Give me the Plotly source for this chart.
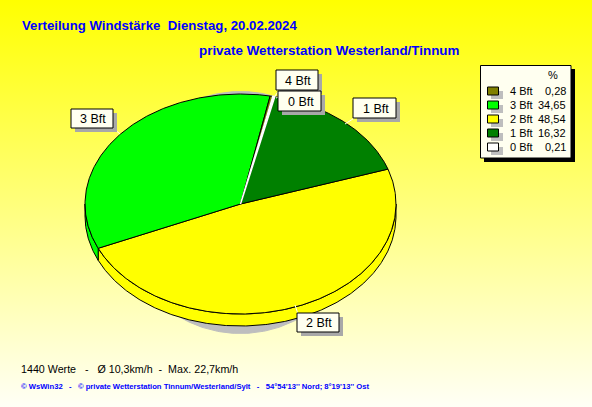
import numpy as np
import plotly.graph_objects as go

# ---------- data ----------
categories = ["4 Bft", "3 Bft", "2 Bft", "1 Bft", "0 Bft"]
percent = [0.28, 34.65, 48.54, 16.32, 0.21]
percent_labels = ["0,28", "34,65", "48,54", "16,32", "0,21"]
colors = ["#808000", "#00FF00", "#FFFF00", "#008000", "#FFFFFF"]
clockwise_order = ["2 Bft", "3 Bft", "4 Bft", "0 Bft", "1 Bft"]
draw_order = ["2 Bft", "3 Bft", "1 Bft", "4 Bft", "0 Bft"]

title_1 = "Verteilung Windstärke\u00a0\u00a0Dienstag, 20.02.2024"
title_2 = "private Wetterstation Westerland/Tinnum"
footer_1 = "1440 Werte\u00a0\u00a0\u00a0-\u00a0\u00a0\u00a0Ø 10,3km/h\u00a0\u00a0-\u00a0\u00a0Max. 22,7km/h"
footer_2 = ("© WsWin32\u00a0\u00a0\u00a0-\u00a0\u00a0\u00a0© private Wetterstation Tinnum/Westerland/Sylt"
            "\u00a0\u00a0\u00a0-\u00a0\u00a0\u00a054°54'13'' Nord; 8°19'13'' Ost")

# ---------- layout constants (pixels) ----------
W, H = 592, 407
CX, CY, RX, RY = 240.5, 204.0, 155.5, 110.0
DEPTH = 12.0 / RY
START = 18.5
FONT = "Liberation Sans, Arial, sans-serif"
PAPER = "#FFFFF0"

px = lambda x: x / W
py = lambda y: 1 - y / H

fig = go.Figure()

xr = [-CX / RX, (W - CX) / RX]
yr = [(CY - H) / RY, CY / RY]

# background gradient
fig.add_trace(go.Scatter(
    x=[xr[0], xr[1], xr[1], xr[0], xr[0]], y=[yr[0], yr[0], yr[1], yr[1], yr[0]],
    mode="none", fill="toself", hoverinfo="skip", showlegend=False,
    fillgradient=dict(type="vertical", colorscale=[[0, "#FFFFF6"], [1, "#FFFF00"]]),
))

color_of = dict(zip(categories, colors))
value_of = dict(zip(categories, percent))


def arc(a0, a1, dy=0.0):
    a = np.radians(np.linspace(a0, a1, max(2, int(abs(a1 - a0) * 2) + 1)))
    return np.cos(a), np.sin(a) + dy


# slice angles, clockwise
edges = {}
ang = START
for name in clockwise_order:
    edges[name] = (ang, ang - value_of[name] * 3.6)
    ang = edges[name][1]

# gray drop shadow behind the pie
GX, GY, GR = 0.0, -8.5 / RY, 121.0
t = np.radians(np.linspace(0, 360, 361))
fig.add_trace(go.Scatter(
    x=GX + GR / RX * np.cos(t), y=GY + GR / RY * np.sin(t),
    mode="lines", line=dict(color="#BEBEBE", width=1), fill="toself", fillcolor="#BEBEBE",
    hoverinfo="skip", showlegend=False,
))

# side wall
for name in clockwise_order:
    a0, a1 = edges[name]
    a0c, a1c = min(a0, 0), max(a1, -180)
    if a0c <= a1c:
        continue
    xt, yt = arc(a0c, a1c)
    xb, yb = arc(a1c, a0c, -DEPTH)
    fig.add_trace(go.Scatter(
        x=np.r_[xt, xb, xt[0]], y=np.r_[yt, yb, yt[0]],
        mode="lines", fill="toself", fillcolor=color_of[name],
        line=dict(color="black", width=1), hoverinfo="skip", showlegend=False,
    ))

# top face
for name in draw_order:
    a0, a1 = edges[name]
    xa, ya = arc(a0, a1)
    line = dict(color="white", width=1.5) if name == "0 Bft" else dict(color="black", width=1)
    fig.add_trace(go.Scatter(
        x=np.r_[0, xa, 0], y=np.r_[0, ya, 0],
        mode="lines", fill="toself", fillcolor=color_of[name],
        line=line, hoverinfo="skip", showlegend=False,
    ))

shapes, annos = [], []


def rect(x0, y0, x1, y1, fill, line=None):
    shapes.append(dict(type="rect", xref="paper", yref="paper",
                       x0=px(x0), x1=px(x1), y0=py(y0), y1=py(y1),
                       fillcolor=fill, line=dict(color=line or fill, width=1 if line else 0)))


def text(x, y, s, size=11, color="#000000", anchor="left", bold=False):
    annos.append(dict(xref="paper", yref="paper", x=px(x), y=py(y), text=f"<b>{s}</b>" if bold else s,
                      showarrow=False, xanchor=anchor, yanchor="middle",
                      font=dict(family=FONT, size=size, color=color)))


# leader lines
for (x0, y0, x1, y1) in [(345, 124, 356, 117), (113, 128, 120, 134), (295, 305, 298, 314),
                         (275, 96, 280, 89), (276, 98, 281, 96)]:
    shapes.append(dict(type="line", xref="paper", yref="paper", x0=px(x0), x1=px(x1),
                       y0=py(y0), y1=py(y1), line=dict(color="#FFFFF0", width=1)))

# slice callouts
callouts = {"4 Bft": (276, 70, 318, 90), "0 Bft": (278, 91, 321, 111), "1 Bft": (353, 98, 396, 118),
            "3 Bft": (71, 109, 113, 128), "2 Bft": (297, 313, 339, 332)}
for name in ["4 Bft", "0 Bft", "1 Bft", "3 Bft", "2 Bft"]:
    x0, y0, x1, y1 = callouts[name]
    rect(x0 + 4, y0 + 4, x1 + 4, y1 + 4, "#A8A8A8")
    rect(x0, y0, x1, y1, PAPER, "#000000")
    text((x0 + x1) / 2 + 1, (y0 + y1) / 2 + 0.5, name, size=12.5, anchor="center")

# legend
rect(484, 69, 575, 162, "#000000")
rect(480.5, 65.5, 571, 158, PAPER, "#000000")
text(553, 75, "%", anchor="center")
for i, (name, lab, col) in enumerate(zip(categories, percent_labels, colors)):
    yc = 91 + 14 * i
    rect(491, yc, 503, yc + 8, "#BEBEBE")
    rect(487.5, yc - 4, 498.5, yc + 4, col, "#000000")
    text(507.5, yc, name)
    text(568, yc, lab, anchor="right")

# titles and footers
text(20, 26, title_1, size=13.2, color="#0000FF", bold=True)
text(197, 50, title_2, size=13.4, color="#0000FF", bold=True)
text(19, 369, footer_1, size=10.7)
text(19, 386, footer_2, size=7.65, color="#0000FF", bold=True)

fig.update_layout(
    width=W, height=H, margin=dict(l=0, r=0, t=0, b=0), showlegend=False,
    paper_bgcolor="#FFFFF0", plot_bgcolor="#FFFFF0",
    xaxis=dict(range=xr, visible=False, fixedrange=True),
    yaxis=dict(range=yr, visible=False, fixedrange=True),
    shapes=shapes, annotations=annos,
)
fig.write_html("out.html", config={"displayModeBar": False},
               post_script="document.body.style.margin='0';document.body.style.overflow='hidden';")
